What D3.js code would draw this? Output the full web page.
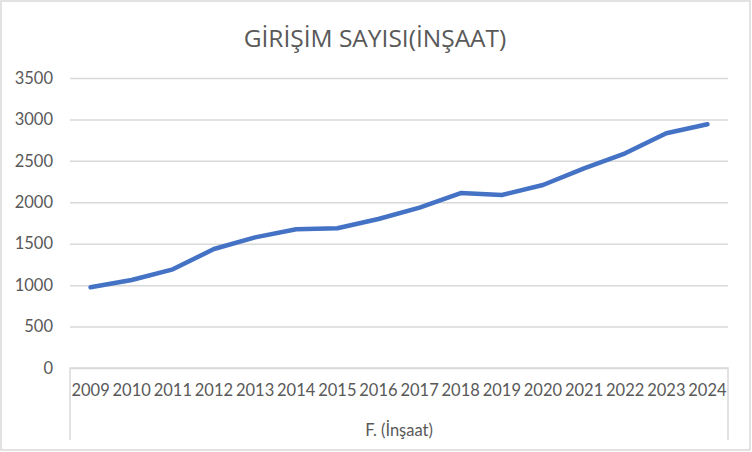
<!DOCTYPE html>
<html><head><meta charset="utf-8">
<script src="https://cdn.jsdelivr.net/npm/d3@7"></script>
<style>body{margin:0;background:#fff}svg{display:block}</style>
</head><body>
<svg id="c" width="752" height="452"></svg>
<script>
const title = "GİRİŞİM SAYISI(İNŞAAT)";
const axisTitle = "F. (İnşaat)";
const years = ["2009","2010","2011","2012","2013","2014","2015","2016","2017","2018","2019","2020","2021","2022","2023","2024"];
const values = [974,1062,1191,1436,1577,1674,1686,1798,1935,2112,2088,2209,2410,2591,2833,2941];
const yTicks = [0,500,1000,1500,2000,2500,3000,3500];

const svg = d3.select("#c");
const W = 752, H = 452;
const m = {left:70, right:24, top:78, bottom:84};
const x = d3.scaleBand().domain(years).range([m.left, W - m.right]);
const y = d3.scaleLinear().domain([0,3500]).range([H - m.bottom, m.top]);
const textCol = "#595959", gridCol = "#d9d9d9";
const lblFont = "Lato, 'Open Sans', sans-serif";

svg.append("rect").attr("x",1).attr("y",1).attr("width",W-3).attr("height",H-3)
  .attr("fill","#fff").attr("stroke",gridCol).attr("stroke-width",1.5);

svg.append("text").attr("x",375).attr("y",47)
  .attr("text-anchor","middle").attr("fill",textCol)
  .style("font-family","'Open Sans', sans-serif").style("font-size","24.5px")
  .text(title);

// gridlines + y labels
const yAxis = d3.axisLeft(y).tickValues(yTicks).tickFormat(d3.format("d"))
  .tickSize(-(W - m.left - m.right)).tickPadding(17);
const gy = svg.append("g").attr("transform",`translate(${m.left},0)`).call(yAxis);
gy.select(".domain").remove();
gy.selectAll(".tick line").attr("stroke",gridCol).attr("stroke-width",1.5);
gy.selectAll(".tick text").attr("fill",textCol)
  .style("font-family",lblFont).style("font-size","16.5px");

// category axis
const xAxis = d3.axisBottom(x).tickSize(0).tickPadding(16);
const gx = svg.append("g").attr("transform",`translate(0,${y(0)})`).call(xAxis);
gx.select(".domain").remove();
gx.selectAll(".tick text").attr("fill",textCol)
  .style("font-family",lblFont).style("font-size","16.5px");
const r = x.range();
svg.append("path")
  .attr("d",`M${r[0]},440V${y(0)}H${r[1]}V440`)
  .attr("fill","none").attr("stroke",gridCol).attr("stroke-width",1.5);

svg.append("text").attr("x",(r[0]+r[1])/2).attr("y",436)
  .attr("text-anchor","middle").attr("fill",textCol)
  .style("font-family",lblFont).style("font-size","16.5px")
  .text(axisTitle);

const line = d3.line().x((d,i)=>x(years[i]) + x.bandwidth()/2).y(d=>y(d));
svg.append("path").datum(values).attr("d",line)
  .attr("fill","none").attr("stroke","#4472c4").attr("stroke-width",4.5)
  .attr("stroke-linejoin","round").attr("stroke-linecap","round");
</script>
</body></html>
